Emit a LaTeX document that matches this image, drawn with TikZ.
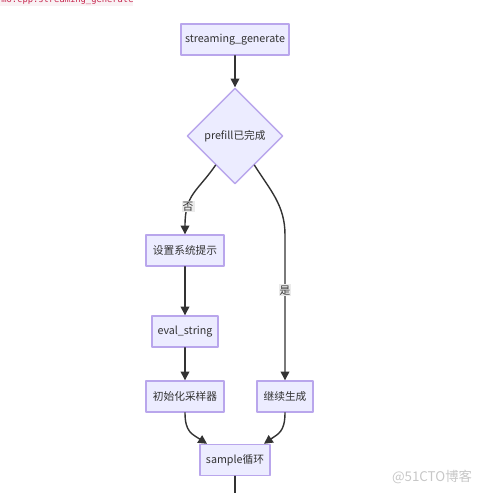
\documentclass[tikz,border=0pt]{standalone}
\usepackage{fontspec}
\setmainfont{Noto Sans CJK SC}
\newfontfamily\codefont{DejaVu Sans Mono}
\usepackage{xcolor}
\usetikzlibrary{positioning,calc,shapes.geometric,arrows.meta}

\definecolor{mmFill}{HTML}{ECECFF}
\definecolor{mmStroke}{HTML}{B9A6EC}
\definecolor{mmLine}{HTML}{333333}
\definecolor{mmLbl}{HTML}{EBEBEB}
\definecolor{codeBg}{HTML}{F9F2F4}
\definecolor{codeFg}{HTML}{C7254E}

\begin{document}
\begin{tikzpicture}[
					x=0.02cm,y=-0.02cm,
					>={Triangle[length=5pt,width=5pt]},
					line cap=round,line join=round,
					font=\fontsize{6.1}{7.5}\selectfont,
					box/.style={draw=mmStroke, fill=mmFill, line width=0.8pt,
						minimum height=0.62cm, inner sep=0pt, text=mmLine},
					decide/.style={diamond, aspect=1, draw=mmStroke, fill=mmFill,
						line width=0.8pt, minimum size=1.92cm, inner sep=0pt, text=mmLine},
					flow/.style={->, draw=mmLine, line width=0.8pt},
					lbl/.style={fill=mmLbl, inner sep=0.6pt, text=mmLine}
					]
					\useasboundingbox (0,0) rectangle (487,493);
					
					%----- cut-off code line on top
					\fill[codeBg] (0,0) rectangle (133,6);
					\node[anchor=base west, inner sep=0pt, text=codeFg,
						font=\codefont\fontsize{5}{6}\selectfont] (codeLine) at (1,2.6) {mo.cpp:streaming\_generate};
					
					%----- nodes
					\node[box, minimum width=2.16cm] (sg)   at (235,39.5)  {streaming\_generate};
					\node[decide]                    (dec)  at (235,136)   {prefill已完成};
					\node[box, minimum width=1.56cm] (sys)  at (185,250.5) {设置系统提示};
					\node[box, minimum width=1.32cm] (eval) at (185,331.5) {eval\_string};
					\node[box, minimum width=1.56cm] (init) at (185,396.5) {初始化采样器};
					\node[box, minimum width=1.12cm] (cont) at (285,396.5) {继续生成};
					\node[box, minimum width=1.40cm] (smp)  at (235,460)   {sample循环};
					
					%----- helper points
					\coordinate (noStart)  at ($(dec.south)!0.4!(dec.west)$);
					\coordinate (yesStart) at ($(dec.south)!0.4!(dec.east)$);
					\coordinate (yesBend)  at (285,235);
					\coordinate (smpL)     at ($(smp.north)+(-28,0)$);
					\coordinate (smpR)     at ($(smp.north)+(29,0)$);
					\coordinate (loopEnd)  at (235,500);
					
					%----- connectors
					\draw[flow] (sg) -- (dec);
					\draw[flow] (noStart) .. controls (197,192) and (185,194) .. (sys.north)
						node[lbl, pos=0.7] (noLbl) {否};
					\draw[flow] (yesStart) .. controls (270,190) and (285,205) .. (yesBend)
						-- (cont.north) node[lbl, pos=0.38] (yesLbl) {是};
					\draw[flow] (sys) -- (eval);
					\draw[flow] (eval) -- (init);
					\draw[flow] (init.south) .. controls (185,432) and (192,434) .. (smpL);
					\draw[flow] (cont.south) .. controls (285,432) and (278,434) .. (smpR);
					\draw[mmLine, line width=0.8pt] (smp.south) -- (loopEnd);
					
					%----- watermark
					\node[text=black!22, font=\fontsize{7.6}{9}\selectfont] (mark) at (432,477) {@51CTO博客};
					
				\end{tikzpicture}
\end{document}
